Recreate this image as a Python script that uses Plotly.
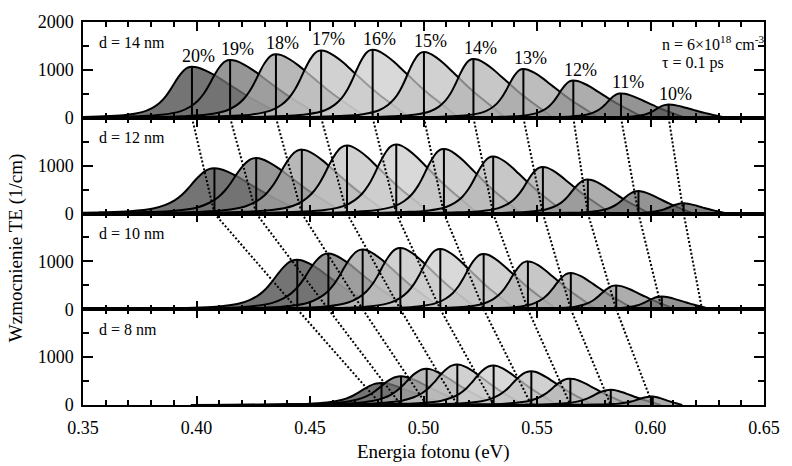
import plotly.graph_objects as go

# ---------------- data ----------------
COMPOSITION_LABELS = ["20%", "19%", "18%", "17%", "16%", "15%", "14%", "13%", "12%", "11%", "10%"]
PANEL_LABELS = ["d = 14 nm", "d = 12 nm", "d = 10 nm", "d = 8 nm"]

# peak photon energy (eV), peak gain (1/cm), rise width and fall width (eV)
PEAK_E_14 = [0.398, 0.4148, 0.435, 0.4549, 0.4776, 0.5002, 0.522, 0.544, 0.566, 0.587, 0.608]
PEAK_G_14 = [1066, 1208, 1328, 1405, 1420, 1371, 1229, 1017, 778, 508, 275]
RISE_W_14 = [0.011, 0.011, 0.011, 0.011, 0.0105, 0.010, 0.0095, 0.009, 0.0085, 0.008, 0.0075]
FALL_W_14 = [0.042, 0.041, 0.040, 0.039, 0.038, 0.036, 0.035, 0.033, 0.031, 0.028, 0.025]

PEAK_E_12 = [0.4079, 0.4263, 0.4464, 0.4663, 0.488, 0.509, 0.5307, 0.5526, 0.5724, 0.5947, 0.6146]
PEAK_G_12 = [944, 1157, 1334, 1419, 1440, 1349, 1191, 972, 711, 468, 213]
RISE_W_12 = [0.0135, 0.013, 0.0125, 0.012, 0.0115, 0.011, 0.0105, 0.010, 0.0095, 0.009, 0.008]
FALL_W_12 = [0.040, 0.039, 0.038, 0.037, 0.036, 0.034, 0.032, 0.030, 0.027, 0.024, 0.019]

PEAK_E_10 = [0.4444, 0.4581, 0.4732, 0.4898, 0.5074, 0.5265, 0.546, 0.5649, 0.5849, 0.605, 0.6227]
PEAK_G_10 = [1035, 1162, 1246, 1281, 1260, 1155, 1000, 756, 496, 265, 30]
RISE_W_10 = [0.013, 0.0125, 0.012, 0.0115, 0.011, 0.0105, 0.010, 0.0095, 0.009, 0.0085, 0.006]
FALL_W_10 = [0.036, 0.036, 0.035, 0.034, 0.033, 0.032, 0.030, 0.028, 0.026, 0.022, 0.010]

PEAK_E_8 = [0.4815, 0.4901, 0.5014, 0.5149, 0.5309, 0.5475, 0.5647, 0.5825, 0.601]
PEAK_G_8 = [459, 598, 755, 846, 824, 704, 550, 317, 176]
RISE_W_8 = [0.012, 0.012, 0.012, 0.012, 0.0115, 0.011, 0.0105, 0.010, 0.009]
FALL_W_8 = [0.030, 0.030, 0.030, 0.029, 0.028, 0.027, 0.026, 0.022, 0.013]

# normalized line shape (offset in units of width, level relative to peak)
RISE_OFFSET = [7.0, 5.0, 3.75, 2.75, 2.0, 1.6, 1.3, 1.05, 0.85, 0.65, 0.45, 0.25, 0.1, 0.0]
RISE_LEVEL = [0.0, 0.01, 0.025, 0.05, 0.11, 0.19, 0.29, 0.42, 0.56, 0.72, 0.86, 0.96, 0.995, 1.0]
FALL_OFFSET = [0.06, 0.15, 0.25, 0.35, 0.45, 0.55, 0.65, 0.75, 0.85, 0.93, 1.0]
FALL_LEVEL = [0.985, 0.92, 0.82, 0.70, 0.58, 0.46, 0.35, 0.25, 0.15, 0.07, 0.0]

FILL_GRAYS = [70, 115, 160, 194, 204, 194, 180, 167, 146, 112, 85]
FILL_ALPHA = 0.75

Y_TICKS_TOP = [0, 1000, 2000]
Y_TICKS = [0, 1000]
Y_MINOR = [500, 1500]

FONT = "Liberation Serif, Times New Roman, DejaVu Serif, serif"

# ---------------- figure ----------------
panels = [
    (PEAK_E_14, PEAK_G_14, RISE_W_14, FALL_W_14),
    (PEAK_E_12, PEAK_G_12, RISE_W_12, FALL_W_12),
    (PEAK_E_10, PEAK_G_10, RISE_W_10, FALL_W_10),
    (PEAK_E_8, PEAK_G_8, RISE_W_8, FALL_W_8),
]
DOMAINS = [(0.75, 1.0), (0.5, 0.75), (0.25, 0.5), (0.0, 0.25)]

fig = go.Figure()
annotations = []
shapes = []

for k, (pe, pg, rw, fw) in enumerate(panels):
    xa = "x" if k == 0 else f"x{k+1}"
    ya = "y" if k == 0 else f"y{k+1}"
    for i in range(len(pe)):
        xs = [pe[i] - v * rw[i] for v in RISE_OFFSET] + [pe[i] + u * fw[i] for u in FALL_OFFSET]
        ys = [pg[i] * l for l in RISE_LEVEL] + [pg[i] * l for l in FALL_LEVEL]
        g = FILL_GRAYS[i]
        fig.add_trace(go.Scatter(
            x=xs, y=ys, mode="lines",
            line=dict(color="black", width=2, shape="spline", smoothing=1.0),
            fill="tozeroy", fillcolor=f"rgba({g},{g},{g},{FILL_ALPHA})",
            xaxis=xa, yaxis=ya, hoverinfo="skip", showlegend=False))
    for i in range(len(pe)):
        fig.add_trace(go.Scatter(
            x=[pe[i], pe[i]], y=[0, pg[i]], mode="lines",
            line=dict(color="black", width=2),
            xaxis=xa, yaxis=ya, hoverinfo="skip", showlegend=False))
    annotations.append(dict(
        text=PANEL_LABELS[k], xref=f"{xa} domain", yref=f"{ya} domain",
        x=0.02, y=1, yshift=-20, xanchor="left", yanchor="middle",
        showarrow=False, font=dict(family=FONT, size=16, color="black")))

    axis_common = dict(showline=True, linecolor="black", linewidth=1.5, mirror="allticks",
                       ticks="inside", tickcolor="black", tickwidth=1.5,
                       showgrid=False, zeroline=False,
                       tickfont=dict(family=FONT, size=18, color="black"))
    fig.layout["xaxis" if k == 0 else f"xaxis{k+1}"] = dict(
        domain=[0, 1], range=[0.35, 0.65], anchor=ya,
        tick0=0.35, dtick=0.05, ticklen=9, tickformat=".2f",
        showticklabels=(k == 3), ticklabelstandoff=6,
        minor=dict(dtick=0.01, tick0=0.35, ticks="inside", ticklen=5, tickwidth=1.5,
                   tickcolor="black", showgrid=False),
        **axis_common)
    fig.layout["yaxis" if k == 0 else f"yaxis{k+1}"] = dict(
        domain=list(DOMAINS[k]), range=[0, 2000], anchor=xa,
        tickmode="array", tickvals=Y_TICKS_TOP if k == 0 else Y_TICKS, ticklen=10,
        ticklabelstandoff=4,
        minor=dict(tickvals=Y_MINOR, ticks="inside", ticklen=6, tickwidth=1.5,
                   tickcolor="black", showgrid=False),
        **axis_common)

# composition labels above the peaks of the top panel
for i, lab in enumerate(COMPOSITION_LABELS):
    annotations.append(dict(
        text=lab, xref="x", yref="y", x=PEAK_E_14[i], y=PEAK_G_14[i],
        xshift=7, yshift=11, xanchor="center", yanchor="middle",
        showarrow=False, font=dict(family=FONT, size=18, color="black")))

annotations.append(dict(
    text="n = 6×10<sup>18</sup> cm<sup>-3</sup>", xref="x domain", yref="y domain",
    x=0.847, y=1, yshift=-21, xanchor="left", yanchor="middle",
    showarrow=False, font=dict(family=FONT, size=16, color="black")))
annotations.append(dict(
    text="τ = 0.1 ps", xref="x domain", yref="y domain",
    x=0.847, y=1, yshift=-41, xanchor="left", yanchor="middle",
    showarrow=False, font=dict(family=FONT, size=16, color="black")))

annotations.append(dict(
    text="Energia fotonu (eV)", xref="paper", yref="paper", x=0.515, y=-0.1227,
    xanchor="center", yanchor="middle", showarrow=False,
    font=dict(family=FONT, size=19, color="black")))
annotations.append(dict(
    text="Wzmocnienie TE (1/cm)", xref="paper", yref="paper", x=-0.098, y=0.41,
    xanchor="center", yanchor="middle", textangle=-90, showarrow=False,
    font=dict(family=FONT, size=19, color="black")))

# dotted lines linking the peaks of the same composition in neighbouring panels
for k in range(3):
    pa = panels[k][0]
    pb = panels[k + 1][0]
    for i in range(min(len(pa), len(pb))):
        shapes.append(dict(
            type="line", xref="x", yref="paper",
            x0=pa[i], y0=DOMAINS[k][0], x1=pb[i], y1=DOMAINS[k + 1][0],
            line=dict(color="black", width=2, dash="2px,2px"), layer="above"))

fig.update_layout(
    width=792, height=466,
    margin=dict(l=83, r=16, t=22, b=61),
    paper_bgcolor="white", plot_bgcolor="white",
    showlegend=False,
    annotations=annotations, shapes=shapes,
    font=dict(family=FONT, color="black"),
)

fig.write_html("out.html")
